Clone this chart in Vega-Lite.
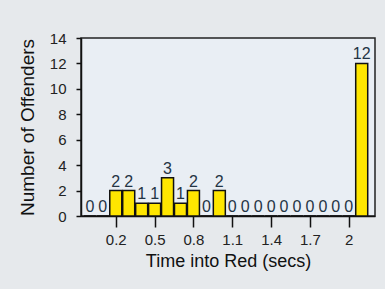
{
  "$schema": "https://vega.github.io/schema/vega-lite/v6.json",
  "width": 294,
  "height": 178,
  "autosize": {"type": "none"},
  "padding": {"left": 81, "top": 38, "right": 10, "bottom": 73},
  "background": "#e6e9ec",
  "config": {
    "view": {"fill": "#e9eef4", "stroke": "#222222", "strokeWidth": 1.5},
    "font": "Liberation Sans"
  },
  "data": {
    "values": [
      {"t": 0.0, "n": 0}, {"t": 0.1, "n": 0}, {"t": 0.2, "n": 2}, {"t": 0.3, "n": 2},
      {"t": 0.4, "n": 1}, {"t": 0.5, "n": 1}, {"t": 0.6, "n": 3}, {"t": 0.7, "n": 1},
      {"t": 0.8, "n": 2}, {"t": 0.9, "n": 0}, {"t": 1.0, "n": 2}, {"t": 1.1, "n": 0},
      {"t": 1.2, "n": 0}, {"t": 1.3, "n": 0}, {"t": 1.4, "n": 0}, {"t": 1.5, "n": 0},
      {"t": 1.6, "n": 0}, {"t": 1.7, "n": 0}, {"t": 1.8, "n": 0}, {"t": 1.9, "n": 0},
      {"t": 2.0, "n": 0}, {"t": 2.1, "n": 12}
    ]
  },
  "encoding": {
    "x": {
      "field": "t", "type": "quantitative",
      "scale": {"domain": [-0.03, 2.164], "nice": false, "zero": false},
      "axis": {
        "values": [0.2, 0.5, 0.8, 1.1, 1.4, 1.7, 2.0],
        "format": "~g",
        "grid": false,
        "domainColor": "#111111", "domainWidth": 1.5,
        "tickColor": "#111111", "tickSize": 11, "tickWidth": 1.5,
        "labelFontSize": 15, "labelColor": "#222222", "labelPadding": 5,
        "title": "Time into Red (secs)",
        "titleFontSize": 18, "titleFontWeight": "normal", "titleColor": "#111111",
        "titlePadding": 5
      }
    },
    "y": {
      "field": "n", "type": "quantitative",
      "scale": {"domain": [0, 14], "nice": false},
      "axis": {
        "values": [0, 2, 4, 6, 8, 10, 12, 14],
        "grid": false,
        "domainColor": "#111111", "domainWidth": 1.5,
        "tickColor": "#111111", "tickSize": 5, "tickWidth": 1.5,
        "labelFontSize": 15, "labelColor": "#222222", "labelPadding": 10,
        "title": "Number of Offenders",
        "titleFontSize": 19, "titleFontWeight": "normal", "titleColor": "#111111",
        "titlePadding": 12
      }
    }
  },
  "layer": [
    {
      "mark": {"type": "bar", "width": 12, "fill": "#ffe600", "stroke": "#111111", "strokeWidth": 1.5}
    },
    {
      "mark": {"type": "text", "baseline": "bottom", "dy": -1, "fontSize": 16, "color": "#243444"},
      "encoding": {"text": {"field": "n", "type": "quantitative"}}
    }
  ]
}
